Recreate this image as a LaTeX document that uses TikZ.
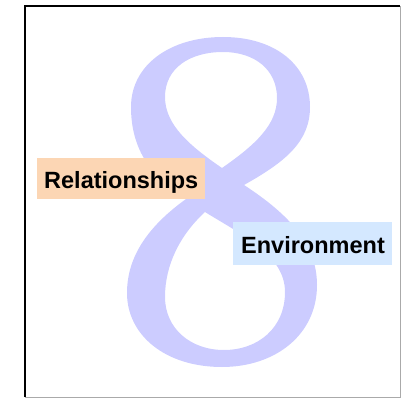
\documentclass[tikz,border=0pt]{standalone}
\usepackage{fontspec}
\setmainfont{Liberation Sans}
\definecolor{eightcol}{RGB}{204,204,255}
\definecolor{peach}{RGB}{252,214,180}
\definecolor{skyb}{RGB}{212,232,255}
\definecolor{frameg}{RGB}{170,170,170}
\begin{document}
\begin{tikzpicture}[x=1pt,y=-1pt,
  lab/.style={inner sep=0pt, font=\fontsize{23.5}{26}\selectfont\bfseries, text=black}]
\useasboundingbox (0,0) rectangle (401,398);
% big calligraphic figure eight
\fill[eightcol, even odd rule]
  (223,37) .. controls (275,37) and (310,65) .. (310,107)
  .. controls (310,142) and (285,162) .. (244,185)
  .. controls (290,215) and (317,245) .. (317,285)
  .. controls (317,335) and (275,367) .. (222,367)
  .. controls (165,367) and (127,335) .. (127,293)
  .. controls (127,255) and (150,225) .. (186,199)
  .. controls (152,178) and (131,150) .. (131,107)
  .. controls (131,65) and (170,37) .. (223,37) -- cycle
  (223,52) .. controls (255,52) and (277,70) .. (277,98)
  .. controls (277,125) and (255,145) .. (222,168)
  .. controls (190,146) and (165,125) .. (165,97)
  .. controls (165,68) and (190,52) .. (223,52) -- cycle
  (205,212) .. controls (242,235) and (285,255) .. (285,292)
  .. controls (285,328) and (258,350) .. (224,350)
  .. controls (190,350) and (165,328) .. (165,297)
  .. controls (165,265) and (180,235) .. (205,212) -- cycle;
% frame
\draw[frameg, line width=1pt] (25,6.5) -- (400,6.5) -- (400,397) -- (25,397);
\draw[black, line width=2pt] (25,397) -- (25,6.5) -- (400,6.5);
% label boxes
\path[fill=peach] (37,158) rectangle (205,199);
\node[lab, anchor=base west] (rel) at (44,188) {Relationships};
\path[fill=skyb] (233,222) rectangle (392,265);
\node[lab, anchor=base west] (env) at (241,253) {Environment};
\end{tikzpicture}
\end{document}
